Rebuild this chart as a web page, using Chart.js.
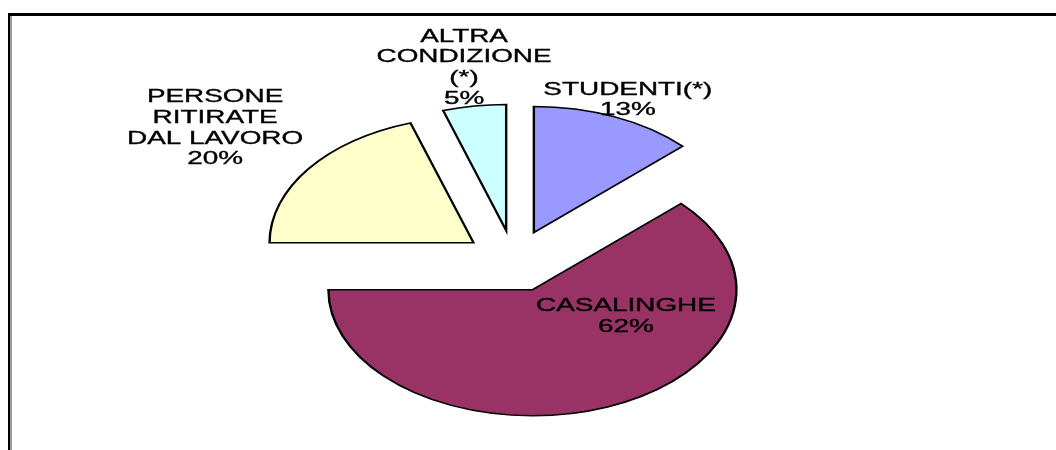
<!DOCTYPE html>
<html>
<head>
<meta charset="utf-8">
<script src="https://cdn.jsdelivr.net/npm/chart.js@4/dist/chart.umd.min.js"></script>
<style>
  html, body { margin: 0; padding: 0; background: #fff; overflow: hidden; }
  #wrap { position: relative; width: 1056px; height: 450px; }
  #c { position: absolute; left: 0; top: 0; }
  #frame {
    position: absolute; left: 8px; top: 13px; width: 1100px; height: 500px;
    border-top: 3px solid #000; border-left: 2px solid #000;
    box-shadow: inset 2px 0 0 #9a9a9a;
    pointer-events: none;
  }
</style>
</head>
<body>
<div id="wrap">
  <canvas id="c" width="1056" height="450"></canvas>
  <div id="frame"></div>
</div>
<script>
// ---- data ----
const categories = ['STUDENTI(*)', 'CASALINGHE', 'PERSONE RITIRATE DAL LAVORO', 'ALTRA CONDIZIONE (*)'];
const labelLines = [['STUDENTI(*)'], ['CASALINGHE'], ['PERSONE', 'RITIRATE', 'DAL LAVORO'], ['ALTRA', 'CONDIZIONE', '(*)']];
const values = [13, 62, 20, 5];
const colors = ['#9999FF', '#993366', '#FFFFCC', '#CCFFFF'];

// ---- style ----
const SQUASH = 0.618;      // vertical flattening of the pie
const EXPLODE = 50;        // slice explosion distance
const RADIUS = 204;
const FONT_PX = 18;
const TEXT_STRETCH = 1.55;
const LINE_H = 20.7;
// label placement: angle (deg, null = mid angle) and radius fraction, relative to the slice vertex
const labelPlace = [
  { angle: null, r: 1.16 },
  { angle: 23.5, r: 0.50 },
  { angle: null, r: 1.566 },
  { angle: null, r: 1.32 }
];

const ellipsePie = {
  id: 'ellipsePie',
  beforeDatasetsDraw(chart) {
    const ctx = chart.ctx;
    const meta = chart.getDatasetMeta(0);
    meta.data.forEach((arc) => {
      const mid = (arc.startAngle + arc.endAngle) / 2;
      ctx.save();
      ctx.translate(arc.x, arc.y);
      ctx.scale(1, SQUASH);
      ctx.translate(-arc.x, -arc.y);
      ctx.translate(Math.cos(mid) * EXPLODE, Math.sin(mid) * EXPLODE);
      arc.draw(ctx);
      ctx.restore();
    });
    return false;
  },
  afterDraw(chart) {
    const ctx = chart.ctx;
    const meta = chart.getDatasetMeta(0);
    ctx.save();
    ctx.fillStyle = '#000';
    ctx.strokeStyle = '#000';
    ctx.lineWidth = 0.35;
    ctx.font = FONT_PX + 'px "Liberation Sans", Arial, sans-serif';
    ctx.textAlign = 'center';
    ctx.textBaseline = 'alphabetic';
    meta.data.forEach((arc, i) => {
      const mid = (arc.startAngle + arc.endAngle) / 2;
      const vx = arc.x + Math.cos(mid) * EXPLODE;
      const vy = arc.y + Math.sin(mid) * EXPLODE * SQUASH;
      const p = labelPlace[i];
      const a = p.angle === null ? mid : p.angle * Math.PI / 180;
      const R = arc.outerRadius;
      const cx = vx + Math.cos(a) * p.r * R;
      const cy = vy + Math.sin(a) * p.r * R * SQUASH;
      const lines = labelLines[i].concat([values[i] + '%']);
      lines.forEach((t, j) => {
        const y = cy + (j - (lines.length - 1) / 2) * LINE_H + 0.358 * FONT_PX;
        ctx.save();
        ctx.translate(cx, y);
        ctx.scale(TEXT_STRETCH, 1);
        ctx.fillText(t, 0, 0);
        ctx.strokeText(t, 0, 0);
        ctx.restore();
      });
    });
    ctx.restore();
  }
};

new Chart(document.getElementById('c'), {
  type: 'pie',
  data: {
    labels: categories,
    datasets: [{
      data: values,
      backgroundColor: colors,
      borderColor: '#000',
      borderWidth: 2.4,
      borderJoinStyle: 'miter'
    }]
  },
  options: {
    responsive: false,
    animation: false,
    events: [],
    radius: RADIUS,
    layout: { padding: { left: 0, right: 28, top: 72, bottom: 0 } },
    plugins: { legend: { display: false }, tooltip: { enabled: false } }
  },
  plugins: [ellipsePie]
});
</script>
</body>
</html>
